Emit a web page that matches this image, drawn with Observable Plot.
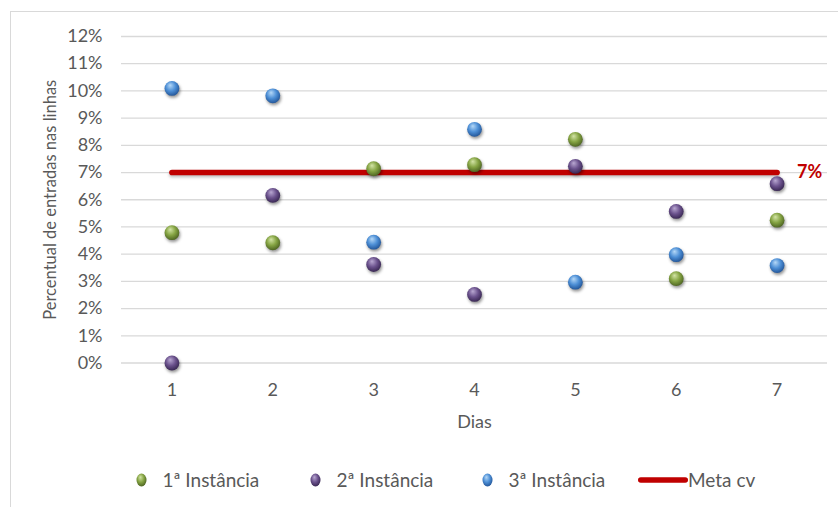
<!DOCTYPE html>
<html>
<head>
<meta charset="utf-8">
<script src="https://cdn.jsdelivr.net/npm/d3@7"></script>
<script src="https://cdn.jsdelivr.net/npm/@observablehq/plot@0.6"></script>
<style>
  html, body { margin: 0; padding: 0; background: #fff; }
  #wrap { position: relative; width: 838px; height: 507px; overflow: hidden; font-family: Lato, sans-serif; color: #595959; }
  #frame { position: absolute; left: 10px; top: 11px; width: 900px; height: 600px; border-left: 1.3px solid #D9D9D9; border-top: 1.3px solid #D9D9D9; }
  #chart { position: absolute; left: 0; top: 0; }
  #legend { position: absolute; left: 0; top: 468px; width: 838px; height: 26px; font-size: 19px; color: #595959; }
  .item { position: absolute; top: 0; display: flex; align-items: center; white-space: nowrap; }
  .item svg { margin-right: 16px; }
  .item.meta svg { margin-right: 0; }
</style>
</head>
<body>
<div id="wrap">
  <div id="frame"></div>
  <div id="chart"></div>
  <div id="legend"></div>
</div>
<script>
// Days of the week-long sample
const days = [1, 2, 3, 4, 5, 6, 7];
// Percentage of line entries per instance (in %)
const inst1 = [4.79, 4.42, 7.14, 7.29, 8.22, 3.10, 5.25];
const inst2 = [0.00, 6.16, 3.62, 2.52, 7.23, 5.57, 6.59];
const inst3 = [10.09, 9.82, 4.44, 8.59, 2.97, 3.98, 3.58];
// Target ("Meta cv")
const meta = 7;
const yTicks = [0, 1, 2, 3, 4, 5, 6, 7, 8, 9, 10, 11, 12];

const seriesNames = ["1ª Instância", "2ª Instância", "3ª Instância"];
const seriesValues = [inst1, inst2, inst3];
const seriesGrad = ["gGreen", "gPurple", "gBlue"];
// sphere shading: highlight, base, rim
const seriesShades = [
  ["#D3E4A6", "#85A443", "#4F6623"],
  ["#B9A8D2", "#6B528D", "#3A2854"],
  ["#B5D8F7", "#4D8FD6", "#24579A"]
];

const rowsFor = vals => days.map((d, i) => ({day: d, value: vals[i]}));
const shadow = "drop-shadow(1px 2.5px 1.4px rgba(0,0,0,0.42))";

const chart = Plot.plot({
  width: 838,
  height: 440,
  marginLeft: 121,
  marginRight: 11,
  marginTop: 36,
  marginBottom: 77.5,
  style: {fontFamily: "Lato, sans-serif", fontSize: "18px", color: "#595959", background: "transparent", overflow: "visible"},
  x: {type: "point", domain: days, padding: 0.5, round: false},
  y: {domain: [0, 12]},
  marks: [
    Plot.gridY(yTicks, {stroke: "#D9D9D9", strokeOpacity: 1, strokeWidth: 1.3}),
    Plot.axisY(yTicks, {tickSize: 0, tickPadding: 19, tickFormat: d => `${d}%`, label: null}),
    Plot.axisX(days, {tickSize: 0, tickPadding: 20, label: null}),
    Plot.line(rowsFor(days.map(() => meta)), {
      x: "day", y: "value", stroke: "#C00000", strokeWidth: 5.6, strokeLinecap: "round",
      imageFilter: "drop-shadow(0px 2px 1.5px rgba(0,0,0,0.25))"
    }),
    ...seriesValues.map((vals, k) => Plot.dot(rowsFor(vals), {
      x: "day", y: "value", r: 7.4, fill: `url(#${seriesGrad[k]})`, stroke: "none", imageFilter: shadow
    })),
    Plot.text([meta], {
      x: days[days.length - 1], y: d => d, text: d => `${d}%`, dx: 20, textAnchor: "start",
      fill: "#C00000", fontWeight: "bold", fontSize: 18
    }),
    Plot.text(["Dias"], {frameAnchor: "bottom", dy: 59, lineAnchor: "middle", fontSize: 18}),
    Plot.text(["Percentual de entradas nas linhas"], {
      frameAnchor: "left", dx: -71, rotate: -90, textAnchor: "middle", lineAnchor: "middle", fontSize: 16.5
    })
  ]
});

// Sphere gradients shared by the chart and the legend
const defs = d3.select(chart).insert("defs", ":first-child");
seriesGrad.forEach((id, k) => {
  const g = defs.append("radialGradient").attr("id", id)
    .attr("cx", "0.45").attr("cy", "0.4").attr("r", "0.6")
    .attr("fx", "0.38").attr("fy", "0.28");
  const [hi, base, rim] = seriesShades[k];
  g.append("stop").attr("offset", "0").attr("stop-color", hi);
  g.append("stop").attr("offset", "0.55").attr("stop-color", base);
  g.append("stop").attr("offset", "1").attr("stop-color", rim);
});

document.getElementById("chart").appendChild(chart);

// Legend
const legend = d3.select("#legend");
const legendLeft = [135.5, 309.5, 481.5, 638];
seriesNames.forEach((name, k) => {
  const item = legend.append("div").attr("class", "item").style("left", `${legendLeft[k]}px`);
  const s = item.append("svg").attr("width", 11).attr("height", 14);
  s.append("ellipse").attr("cx", 5.5).attr("cy", 7).attr("rx", 5).attr("ry", 6.5)
    .attr("fill", `url(#${seriesGrad[k]})`);
  item.append("span").text(name);
});
const mItem = legend.append("div").attr("class", "item meta").style("left", `${legendLeft[3]}px`);
const ms = mItem.append("svg").attr("width", 50).attr("height", 10);
ms.append("line").attr("x1", 2.8).attr("x2", 47.2).attr("y1", 5).attr("y2", 5)
  .attr("stroke", "#C00000").attr("stroke-width", 5.6).attr("stroke-linecap", "round");
mItem.append("span").text("Meta cv");
</script>
</body>
</html>
